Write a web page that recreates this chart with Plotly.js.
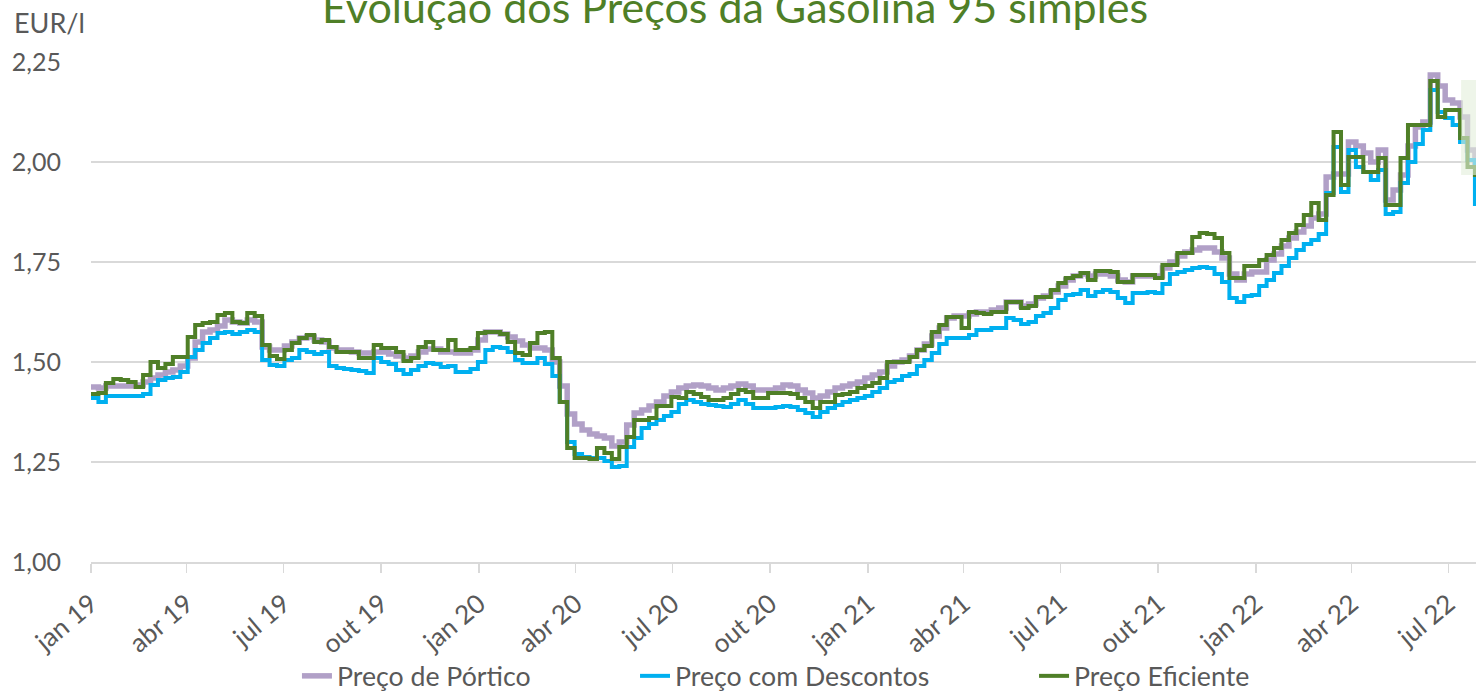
<!DOCTYPE html>
<html><head><meta charset="utf-8">
<script src="https://cdn.plot.ly/plotly-3.0.1.min.js"></script>
<style>html,body{margin:0;padding:0;background:#fff;} #chart{width:1476px;height:691px;}</style>
</head><body><div id="chart"></div>
<script>
// Weekly readings, starting 2019-01-01
const startDate = '2019-01-01';
const portico = [
1.4375,1.435,1.44,1.44,1.44,1.44,1.4425,1.45,1.46,1.4675,
1.475,1.48,1.49,1.51,1.55,1.575,1.58,1.59,1.605,1.60,
1.5975,1.605,1.60,1.5375,1.53,1.53,1.54,1.55,1.56,1.5625,
1.555,1.55,1.535,1.53,1.53,1.525,1.5225,1.5225,1.525,1.525,
1.52,1.515,1.51,1.515,1.525,1.5325,1.5325,1.525,1.525,1.5225,
1.5225,1.53,1.555,1.575,1.575,1.57,1.5625,1.5525,1.5425,1.535,
1.535,1.53,1.50,1.44,1.37,1.345,1.33,1.32,1.315,1.31,
1.29,1.30,1.3425,1.3725,1.38,1.39,1.40,1.415,1.425,1.435,
1.44,1.4425,1.44,1.435,1.43,1.435,1.44,1.445,1.44,1.43,
1.43,1.43,1.435,1.4425,1.44,1.43,1.4225,1.41,1.415,1.425,
1.435,1.44,1.445,1.45,1.46,1.4675,1.475,1.49,1.50,1.505,
1.515,1.53,1.545,1.565,1.585,1.61,1.615,1.615,1.62,1.625,
1.625,1.63,1.635,1.65,1.65,1.64,1.645,1.66,1.665,1.675,
1.69,1.705,1.715,1.72,1.715,1.72,1.72,1.715,1.705,1.70,
1.715,1.715,1.715,1.715,1.735,1.75,1.765,1.775,1.78,1.785,
1.785,1.775,1.76,1.72,1.705,1.72,1.725,1.725,1.755,1.77,
1.79,1.81,1.825,1.84,1.86,1.87,1.9625,1.97,1.97,2.05,
2.04,2.0225,2.00,2.03,1.905,1.93,1.9675,2.04,2.0875,2.10,
2.2175,2.19,2.155,2.1475,2.1125,2.03,1.99
];
const descontos = [
1.41,1.40,1.415,1.415,1.415,1.415,1.415,1.42,1.4425,1.455,
1.46,1.4625,1.475,1.5125,1.53,1.5475,1.56,1.5725,1.575,1.57,
1.575,1.58,1.575,1.505,1.4925,1.49,1.505,1.51,1.53,1.525,
1.52,1.525,1.49,1.485,1.4825,1.48,1.4775,1.4725,1.51,1.50,
1.495,1.48,1.47,1.48,1.49,1.4975,1.495,1.4875,1.49,1.475,
1.475,1.4825,1.50,1.53,1.5375,1.535,1.525,1.505,1.4975,1.4975,
1.51,1.495,1.465,1.40,1.30,1.27,1.2625,1.26,1.26,1.2525,
1.2375,1.24,1.2875,1.31,1.335,1.345,1.355,1.365,1.375,1.395,
1.405,1.40,1.395,1.3925,1.39,1.3875,1.395,1.405,1.395,1.385,
1.385,1.385,1.3875,1.39,1.3875,1.38,1.3725,1.3625,1.375,1.385,
1.3925,1.40,1.405,1.41,1.415,1.425,1.435,1.45,1.455,1.465,
1.47,1.49,1.505,1.5225,1.545,1.56,1.56,1.56,1.5675,1.58,
1.58,1.585,1.585,1.61,1.605,1.595,1.60,1.615,1.6225,1.635,
1.655,1.6675,1.67,1.68,1.665,1.675,1.68,1.675,1.66,1.6475,
1.6725,1.6725,1.675,1.6725,1.695,1.72,1.725,1.73,1.735,1.7375,
1.735,1.72,1.70,1.66,1.65,1.665,1.6675,1.69,1.705,1.7225,
1.74,1.76,1.78,1.795,1.805,1.82,1.9225,2.0375,1.925,2.03,
1.9875,1.975,1.955,1.98,1.87,1.875,1.9475,2.00,2.045,2.08,
2.18,2.125,2.11,2.0925,2.05,2.005,1.89
];
const eficiente = [
1.42,1.4225,1.4475,1.4575,1.455,1.45,1.4375,1.4675,1.50,1.485,
1.495,1.5125,1.5125,1.5625,1.5925,1.5975,1.60,1.6175,1.6225,1.60,
1.5975,1.6225,1.615,1.5425,1.515,1.5075,1.53,1.5475,1.56,1.5675,
1.55,1.555,1.5375,1.525,1.525,1.525,1.51,1.51,1.5425,1.535,
1.535,1.525,1.5025,1.51,1.5375,1.55,1.53,1.53,1.555,1.53,
1.53,1.535,1.5725,1.575,1.575,1.57,1.55,1.5225,1.5175,1.5475,
1.5725,1.575,1.51,1.40,1.285,1.26,1.26,1.2575,1.285,1.2725,
1.2575,1.2875,1.3125,1.355,1.355,1.36,1.39,1.39,1.4125,1.41,
1.425,1.42,1.4125,1.405,1.405,1.41,1.42,1.43,1.425,1.41,
1.41,1.4225,1.4225,1.4225,1.42,1.41,1.40,1.385,1.40,1.40,
1.4175,1.42,1.425,1.435,1.44,1.4475,1.46,1.50,1.50,1.50,
1.5125,1.53,1.54,1.575,1.5925,1.6125,1.6125,1.585,1.625,1.6225,
1.62,1.625,1.625,1.65,1.65,1.635,1.64,1.6625,1.6625,1.68,
1.6975,1.71,1.715,1.7225,1.705,1.7275,1.7275,1.725,1.70,1.70,
1.7175,1.7175,1.7175,1.71,1.7425,1.7425,1.7725,1.7725,1.8125,1.8225,
1.82,1.81,1.7725,1.71,1.71,1.74,1.74,1.755,1.7675,1.785,
1.805,1.8225,1.8425,1.8675,1.8975,1.855,1.9175,2.075,1.9425,2.0125,
2.0125,1.975,1.975,2.01,1.8925,1.8925,2.01,2.0925,2.0925,2.0925,
2.2025,2.1125,2.13,2.13,2.06,1.9875,1.9625
];
const tickDates = ['2019-01-01','2019-04-01','2019-07-01','2019-10-01','2020-01-01','2020-04-01','2020-07-01','2020-10-01','2021-01-01','2021-04-01','2021-07-01','2021-10-01','2022-01-01','2022-04-01','2022-07-01'];
const tickLabels = ['jan 19','abr 19','jul 19','out 19','jan 20','abr 20','jul 20','out 20','jan 21','abr 21','jul 21','out 21','jan 22','abr 22','jul 22'];
const yTicks = [1.00,1.25,1.50,1.75,2.00,2.25];
const seriesNames = ['Preço de Pórtico','Preço com Descontos','Preço Eficiente'];

function weeklyDates(start, n){
  const out = [];
  const t0 = Date.parse(start + 'T00:00:00Z');
  for (let i = 0; i < n; i++) out.push(new Date(t0 + i*7*86400000).toISOString().slice(0,10));
  return out;
}
const dates = weeklyDates(startDate, portico.length);

const FONT = 'Lato, "Open Sans", sans-serif';
const traces = [
  {x:dates, y:portico, name:seriesNames[0], legend:'legend', type:'scatter', mode:'lines', line:{color:'#B1A0C7', width:5.5, shape:'hv'}},
  {x:dates, y:descontos, name:seriesNames[1], legend:'legend2', type:'scatter', mode:'lines', line:{color:'#00B0F0', width:4, shape:'hv'}},
  {x:dates, y:eficiente, name:seriesNames[2], legend:'legend3', type:'scatter', mode:'lines', line:{color:'#4F7F27', width:4, shape:'hv'}}
];

const legendBase = {orientation:'h', xanchor:'left', y:-0.228, yanchor:'middle',
  font:{family:FONT, size:26.7, color:'#595959'}, bgcolor:'rgba(0,0,0,0)'};

const layout = {
  width:1476, height:691,
  margin:{l:91, r:0, t:62, b:129, pad:0, autoexpand:false},
  paper_bgcolor:'#ffffff', plot_bgcolor:'#ffffff',
  separators:', ',
  font:{family:FONT, color:'#595959', size:25},
  showlegend:true,
  legend:Object.assign({}, legendBase, {x:0.1487}),
  legend2:Object.assign({}, legendBase, {x:0.3928}),
  legend3:Object.assign({}, legendBase, {x:0.6809}),
  xaxis:{type:'date', range:['2019-01-01','2022-07-27'], tickmode:'array', tickvals:tickDates, ticktext:tickLabels,
         tickangle:-40, showgrid:false, showline:true, linecolor:'#D9D9D9', linewidth:1.5,
         ticks:'outside', ticklen:9, tickcolor:'#D9D9D9', tickwidth:1.5, zeroline:false, automargin:false,
         ticklabelstandoff:6, tickfont:{family:FONT, size:26, color:'#595959'}, fixedrange:true},
  yaxis:{range:[1,2.25], tickmode:'array', tickvals:yTicks, tickformat:'.2f', showgrid:true, gridcolor:'#D9D9D9', gridwidth:1.5,
         zeroline:false, showline:false, ticks:'', ticklabelstandoff:29, automargin:false,
         tickfont:{family:FONT, size:25, color:'#595959'}, fixedrange:true},
  annotations:[
    {text:'Evolução dos Preços da Gasolina 95 simples', xref:'paper', yref:'paper', x:0.4653, y:1.056, xanchor:'center', yanchor:'bottom',
     showarrow:false, font:{family:FONT, size:43, color:'#4F7F27'}},
    {text:'EUR/l', xref:'paper', yref:'paper', x:-0.057, y:1.042, xanchor:'left', yanchor:'bottom',
     showarrow:false, font:{family:FONT, size:27, color:'#595959'}}
  ],
  shapes:[
    {type:'rect', xref:'x', yref:'y', x0:'2022-07-13', x1:'2022-07-27', y0:1.9675, y1:2.205,
     fillcolor:'rgba(226,239,218,0.6)', line:{width:0}, layer:'above'}
  ]
};
Plotly.newPlot('chart', traces, layout, {displayModeBar:false, staticPlot:true});
</script>
</body></html>
